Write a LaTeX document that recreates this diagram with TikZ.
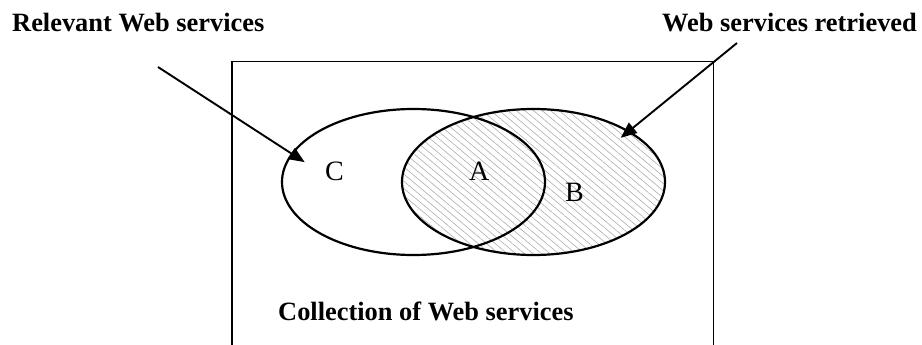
\documentclass[tikz,border=0pt]{standalone}
\usepackage{fontspec}
\setmainfont{Liberation Serif}
\usetikzlibrary{shapes,arrows.meta,patterns.meta,positioning}
\tikzstyle{set}=[ellipse,draw=black,line width=2.2pt,inner sep=0pt,outer sep=0pt,minimum width=263pt,minimum height=146pt]
\tikzstyle{caption}=[font=\fontsize{26.4}{30}\selectfont\bfseries,inner sep=0pt,anchor=base west]
\tikzstyle{region}=[font=\fontsize{28}{32}\selectfont,inner sep=0pt,anchor=base west]
\tikzstyle{pointer}=[-{Triangle[length=16pt,width=13pt]},line width=1.9pt]

\begin{document}
\begin{tikzpicture}[x=1pt,y=-1pt]
    \useasboundingbox (0,0) rectangle (922,345);

    % Rahmen
    \draw[line width=1.8pt] (232,345) -- (232,61.5) -- (713.5,61.5) -- (713.5,345);

    % Mengen
    \node[set, pattern={Lines[angle=-40,distance=5.5pt,line width=0.6pt]}, pattern color=gray!65] (retSet) at (533.5,182) {};
    \node[set] (relSet) at (413.5,182) {};
    \node[region] (regC) at (325,180) {C};
    \node[region] (regA) at (469,180) {A};
    \node[region] (regB) at (565,201) {B};

    % Beschriftungen
    \node[caption] (relLabel) at (12,32) {Relevant Web services};
    \node[caption] (retLabel) at (662,32) {Web services retrieved};
    \node[caption] (collLabel) at (278,320) {Collection of Web services};

    % Pfeile
    \coordinate (relFrom) at (158,67);
    \coordinate (retFrom) at (737,43);
    \draw [pointer, shorten >=-15pt] (relFrom) -- (relSet.167);
    \draw [pointer, shorten >=-10pt] (retFrom) -- (retSet.28);

\end{tikzpicture}
\end{document}
